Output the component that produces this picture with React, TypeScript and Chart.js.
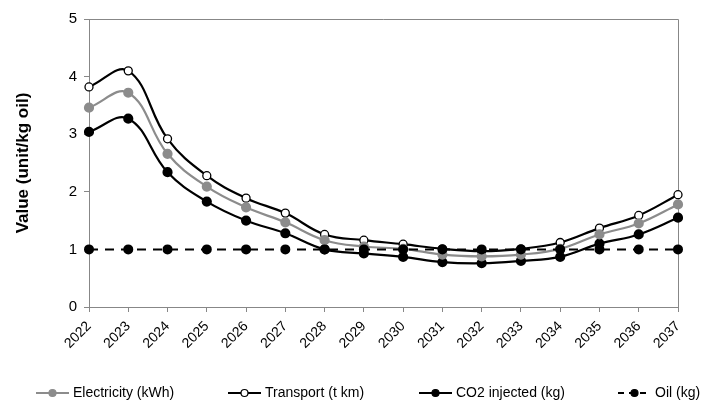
import React, { useEffect, useRef } from "react";
import { Chart, registerables } from "chart.js";
Chart.register(...registerables);

const years = ["2022","2023","2024","2025","2026","2027","2028","2029","2030","2031","2032","2033","2034","2035","2036","2037"];
const electricity = [3.46, 3.72, 2.66, 2.09, 1.73, 1.47, 1.16, 1.05, 1.01, 0.91, 0.88, 0.91, 1.01, 1.26, 1.45, 1.78];
const transport = [3.82, 4.10, 2.92, 2.28, 1.89, 1.63, 1.26, 1.16, 1.09, 1.01, 0.97, 1.01, 1.12, 1.37, 1.59, 1.95];
const co2 = [3.04, 3.27, 2.34, 1.83, 1.50, 1.28, 1.00, 0.93, 0.87, 0.78, 0.76, 0.80, 0.87, 1.10, 1.26, 1.55];
const oil = [1, 1, 1, 1, 1, 1, 1, 1, 1, 1, 1, 1, 1, 1, 1, 1];
const seriesNames = ["Electricity (kWh)", "Transport (t km)", "CO2 injected (kg)", "Oil (kg)"];

const FONT = "'Liberation Sans', Arial, sans-serif";
const AXIS = "#878787";
const GRAY = "#8c8c8c";

const legendStyles = [
  { color: GRAY, dash: [] as number[], fill: GRAY, stroke: GRAY, x: 36 },
  { color: "#000", dash: [] as number[], fill: "#fff", stroke: "#000", x: 228 },
  { color: "#000", dash: [] as number[], fill: "#000", stroke: "#000", x: 419 },
  { color: "#000", dash: [6, 5] as number[], fill: "#000", stroke: "#000", x: 618 },
];

const framePlugin = {
  id: "frame",
  beforeDatasetsDraw(chart: any) {
    const { ctx, chartArea } = chart;
    ctx.save();
    ctx.strokeStyle = AXIS;
    ctx.lineWidth = 1;
    ctx.beginPath();
    ctx.moveTo(chartArea.left, chartArea.top + 0.5);
    ctx.lineTo(chartArea.right + 0.5, chartArea.top + 0.5);
    ctx.lineTo(chartArea.right + 0.5, chartArea.bottom);
    ctx.stroke();
    ctx.restore();
  },
  afterDraw(chart: any) {
    const { ctx } = chart;
    const y = 393;
    ctx.save();
    ctx.font = `14px ${FONT}`;
    ctx.textBaseline = "middle";
    ctx.textAlign = "left";
    seriesNames.forEach((name, i) => {
      const s = legendStyles[i];
      ctx.strokeStyle = s.color;
      ctx.lineWidth = 2;
      ctx.setLineDash(s.dash);
      ctx.beginPath();
      ctx.moveTo(s.x, y);
      ctx.lineTo(s.x + 33, y);
      ctx.stroke();
      ctx.setLineDash([]);
      ctx.beginPath();
      ctx.arc(s.x + 16.5, y, 3.5, 0, Math.PI * 2);
      ctx.fillStyle = s.fill;
      ctx.fill();
      ctx.lineWidth = 1.2;
      ctx.strokeStyle = s.stroke;
      ctx.stroke();
      ctx.fillStyle = "#000";
      ctx.fillText(name, s.x + 37, y);
    });
    ctx.restore();
  },
};

export default function App() {
  const ref = useRef<HTMLCanvasElement>(null);
  useEffect(() => {
    const chart = new Chart(ref.current!, {
      type: "line",
      data: {
        labels: years,
        datasets: [
          {
            label: seriesNames[0], data: electricity, borderColor: GRAY, backgroundColor: GRAY,
            pointBackgroundColor: GRAY, pointBorderColor: GRAY, borderWidth: 2.2, pointRadius: 4, tension: 0.4, order: 2,
          },
          {
            label: seriesNames[1], data: transport, borderColor: "#000", backgroundColor: "#fff",
            pointBackgroundColor: "#fff", pointBorderColor: "#000", pointBorderWidth: 1.3, borderWidth: 2.2, pointRadius: 4, tension: 0.4, order: 2,
          },
          {
            label: seriesNames[2], data: co2, borderColor: "#000", backgroundColor: "#000",
            pointBackgroundColor: "#000", pointBorderColor: "#000", borderWidth: 2.2, pointRadius: 4, tension: 0.4, order: 2,
          },
          {
            label: seriesNames[3], data: oil, borderColor: "#000", backgroundColor: "#000", borderDash: [9, 7],
            pointBackgroundColor: "#000", pointBorderColor: "#000", borderWidth: 2, pointRadius: 4, tension: 0, order: 1,
          },
        ],
      },
      options: {
        responsive: false,
        animation: false,
        layout: { padding: { top: 19, right: 30, left: 0, bottom: 0 } },
        plugins: { legend: { display: false }, tooltip: { enabled: false } },
        scales: {
          x: {
            offset: false,
            grid: { display: true, drawOnChartArea: false, drawTicks: true, tickLength: 5, color: AXIS },
            border: { display: true, color: AXIS, width: 1 },
            ticks: { maxRotation: 45, minRotation: 45, padding: 6, color: "#000", font: { family: FONT, size: 14 }, autoSkip: false },
            afterFit: (s: any) => { s.height = 93; },
          },
          y: {
            min: 0, max: 5,
            grid: { display: true, drawOnChartArea: false, drawTicks: true, tickLength: 5, color: AXIS },
            border: { display: true, color: AXIS, width: 1 },
            ticks: { stepSize: 1, padding: 7, color: "#000", font: { family: FONT, size: 15 } },
            title: { display: true, text: "Value (unit/kg oil)", color: "#000", font: { family: FONT, size: 17, weight: "bold" }, padding: { top: 13, bottom: 0 } },
            afterFit: (s: any) => { s.width = 89; },
          },
        },
      },
      plugins: [framePlugin],
    });
    return () => chart.destroy();
  }, []);
  return (
    <div style={{ position: "fixed", left: 0, top: 0, width: 708, height: 400, background: "#fff" }}>
      <canvas ref={ref} width={708} height={400} />
    </div>
  );
}
